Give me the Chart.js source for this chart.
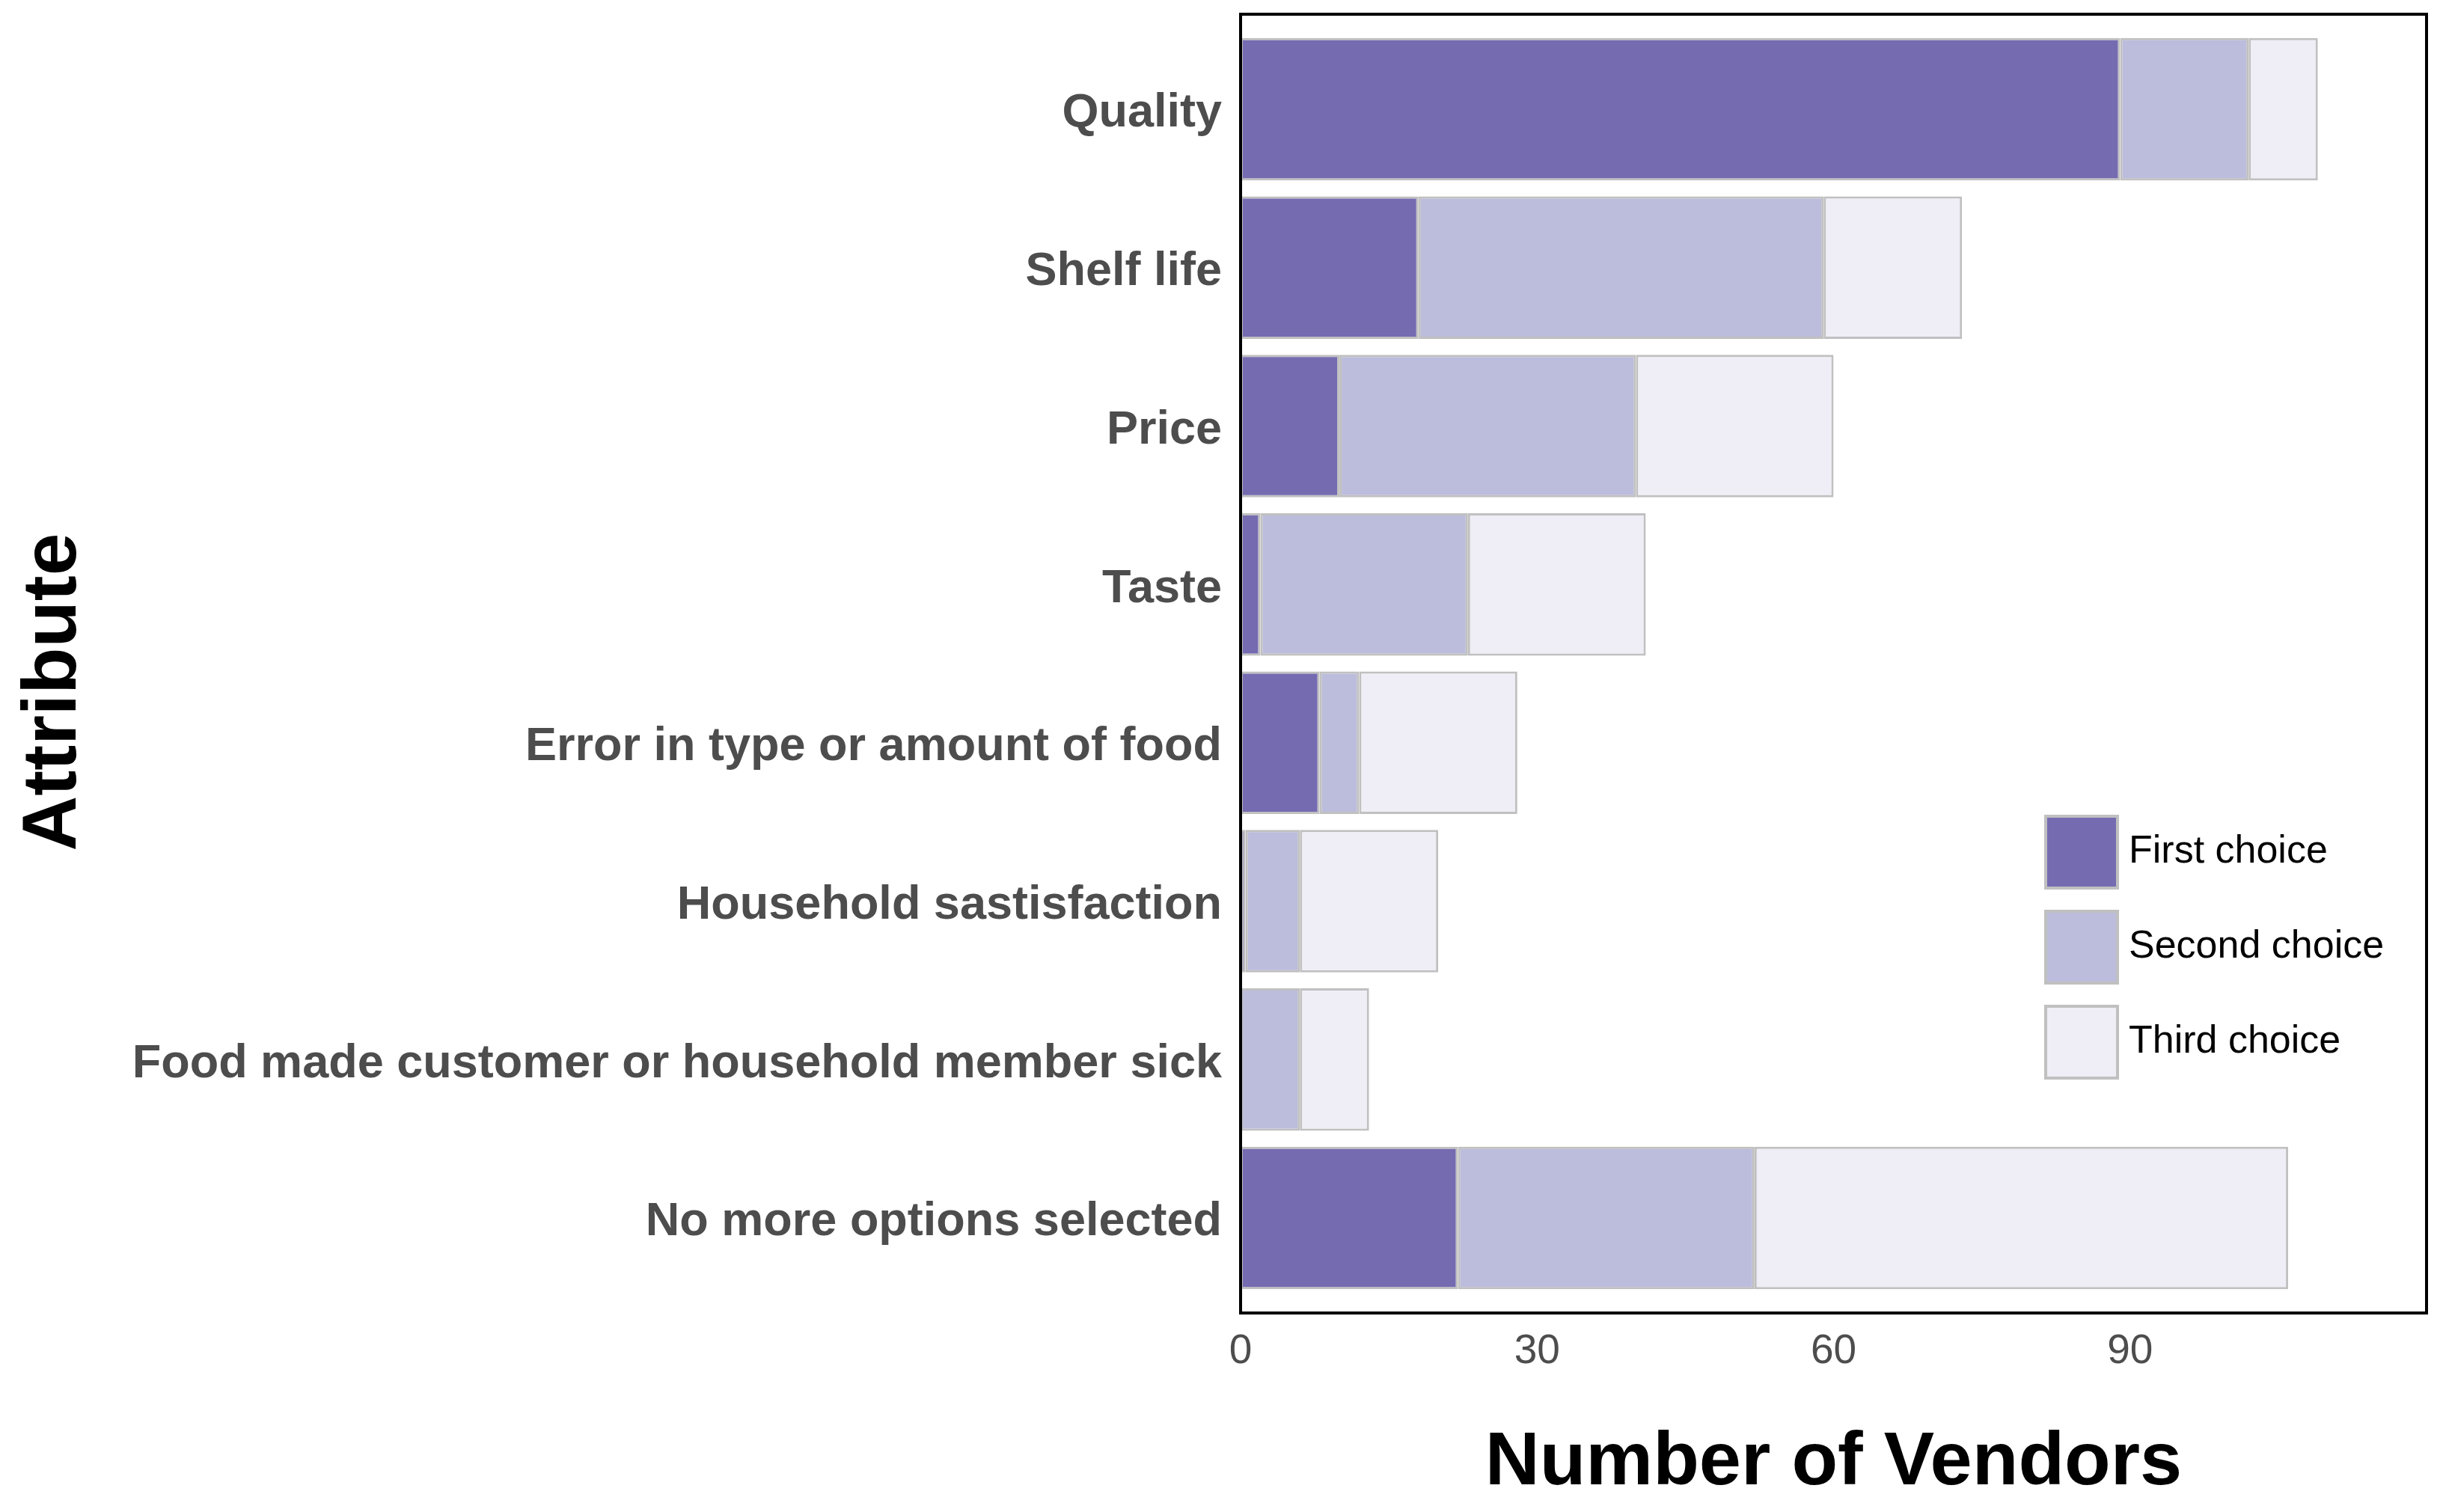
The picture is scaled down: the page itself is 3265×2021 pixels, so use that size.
<!DOCTYPE html>
<html>
<head>
<meta charset="utf-8">
<script src="https://cdn.jsdelivr.net/npm/chart.js@4.4.1/dist/chart.umd.min.js"></script>
<style>
html, body { margin: 0; padding: 0; background: #fff; }
#chart { display: block; }
</style>
</head>
<body>
<canvas id="chart" width="3265" height="2021"></canvas>
<script>
const categories = [
    "Quality",
    "Shelf life",
    "Price",
    "Taste",
    "Error in type or amount of food",
    "Household sastisfaction",
    "Food made customer or household member sick",
    "No more options selected"
];
const firstChoice = [89, 18, 10, 2, 8, 0.5, 0, 22];
const secondChoice = [13, 41, 30, 21, 4, 5.5, 6, 30];
const thirdChoice = [7, 14, 20, 18, 16, 14, 7, 54];
const seriesNames = ["First choice", "Second choice", "Third choice"];
const xTicks = [0, 30, 60, 90];

const fontFamily = '"Liberation Sans", Arial, sans-serif';
const colors = ["#756bb1", "#bcbddc", "#efedf5"];

function toPoints(values) {
    return values.map((v, i) => ({ x: v, y: i + 1 }));
}

function makeDataset(label, values, color) {
    return {
        label: label,
        data: toPoints(values),
        backgroundColor: color,
        borderColor: "#c0c0c0",
        borderWidth: 3,
        borderSkipped: false,
        stack: "all",
        barPercentage: 0.9,
        categoryPercentage: 1.0
    };
}

// panel border drawn over the bars
const framePlugin = {
    id: "frame",
    afterDatasetsDraw(chart) {
        const { ctx, chartArea } = chart;
        ctx.save();
        ctx.strokeStyle = "#000";
        ctx.lineWidth = 4;
        ctx.strokeRect(chartArea.left, chartArea.top, chartArea.right - chartArea.left, chartArea.bottom - chartArea.top);
        ctx.restore();
    }
};

// y title drawn by hand, it sits a bit below the panel centre in the original
const yTitle = {
    id: "yTitle",
    afterDraw(chart) {
        const { ctx, chartArea } = chart;
        ctx.save();
        ctx.translate(73, (chartArea.top + chartArea.bottom) / 2 + 38);
        ctx.rotate(-Math.PI / 2);
        ctx.fillStyle = "#000";
        ctx.font = "bold 102px " + fontFamily;
        ctx.textAlign = "center";
        ctx.textBaseline = "middle";
        ctx.fillText("Attribute", 0, 0);
        ctx.restore();
    }
};

// legend sitting inside the panel, like the original
const insideLegend = {
    id: "insideLegend",
    afterDraw(chart) {
        const { ctx, chartArea } = chart;
        const keySize = 96;
        const keyX = chartArea.right - 509;
        ctx.save();
        chart.data.datasets.forEach((ds, i) => {
            const cy = chartArea.top + 1120 + i * 127;
            ctx.fillStyle = ds.backgroundColor;
            ctx.fillRect(keyX, cy - keySize / 2, keySize, keySize);
            ctx.strokeStyle = "#c0c0c0";
            ctx.lineWidth = 4;
            ctx.strokeRect(keyX, cy - keySize / 2, keySize, keySize);
            ctx.fillStyle = "#000";
            ctx.font = "52px " + fontFamily;
            ctx.textBaseline = "middle";
            ctx.textAlign = "left";
            ctx.fillText(ds.label, keyX + keySize + 15, cy);
        });
        ctx.restore();
    }
};

new Chart(document.getElementById("chart"), {
    type: "bar",
    data: {
        datasets: [
            makeDataset(seriesNames[0], firstChoice, colors[0]),
            makeDataset(seriesNames[1], secondChoice, colors[1]),
            makeDataset(seriesNames[2], thirdChoice, colors[2])
        ]
    },
    options: {
        indexAxis: "y",
        responsive: false,
        animation: false,
        devicePixelRatio: 1,
        layout: {
            padding: { top: 19, right: 22, left: 0, bottom: 0 }
        },
        plugins: {
            legend: { display: false },
            tooltip: { enabled: false }
        },
        scales: {
            x: {
                type: "linear",
                min: 0,
                max: 120,
                stacked: true,
                grid: { display: false, drawTicks: false },
                border: { display: false },
                afterBuildTicks: scale => {
                    scale.ticks = xTicks.map(v => ({ value: v }));
                },
                afterFit: scale => {
                    scale.height = 266;
                    scale.paddingLeft = 0;
                    scale.paddingRight = 0;
                },
                ticks: {
                    color: "#4d4d4d",
                    padding: 19,
                    font: { family: fontFamily, size: 55 }
                },
                title: {
                    display: true,
                    text: "Number of Vendors",
                    color: "#000",
                    padding: { top: 0, bottom: 4 },
                    font: { family: fontFamily, size: 101, weight: "bold" }
                }
            },
            y: {
                type: "linear",
                reverse: true,
                offset: false,
                min: 0.4,
                max: 8.6,
                grid: { display: false, drawTicks: false, offset: false },
                border: { display: false },
                afterBuildTicks: scale => {
                    scale.ticks = categories.map((c, i) => ({ value: i + 1 }));
                },
                afterFit: scale => {
                    scale.width = 1658;
                    scale.paddingTop = 0;
                    scale.paddingBottom = 0;
                },
                ticks: {
                    color: "#4d4d4d",
                    padding: 25,
                    labelOffset: 6,
                    autoSkip: false,
                    callback: v => categories[v - 1],
                    font: { family: fontFamily, size: 63, weight: "bold" }
                },
                title: { display: false }
            }
        }
    },
    plugins: [framePlugin, yTitle, insideLegend]
});
</script>
</body>
</html>
